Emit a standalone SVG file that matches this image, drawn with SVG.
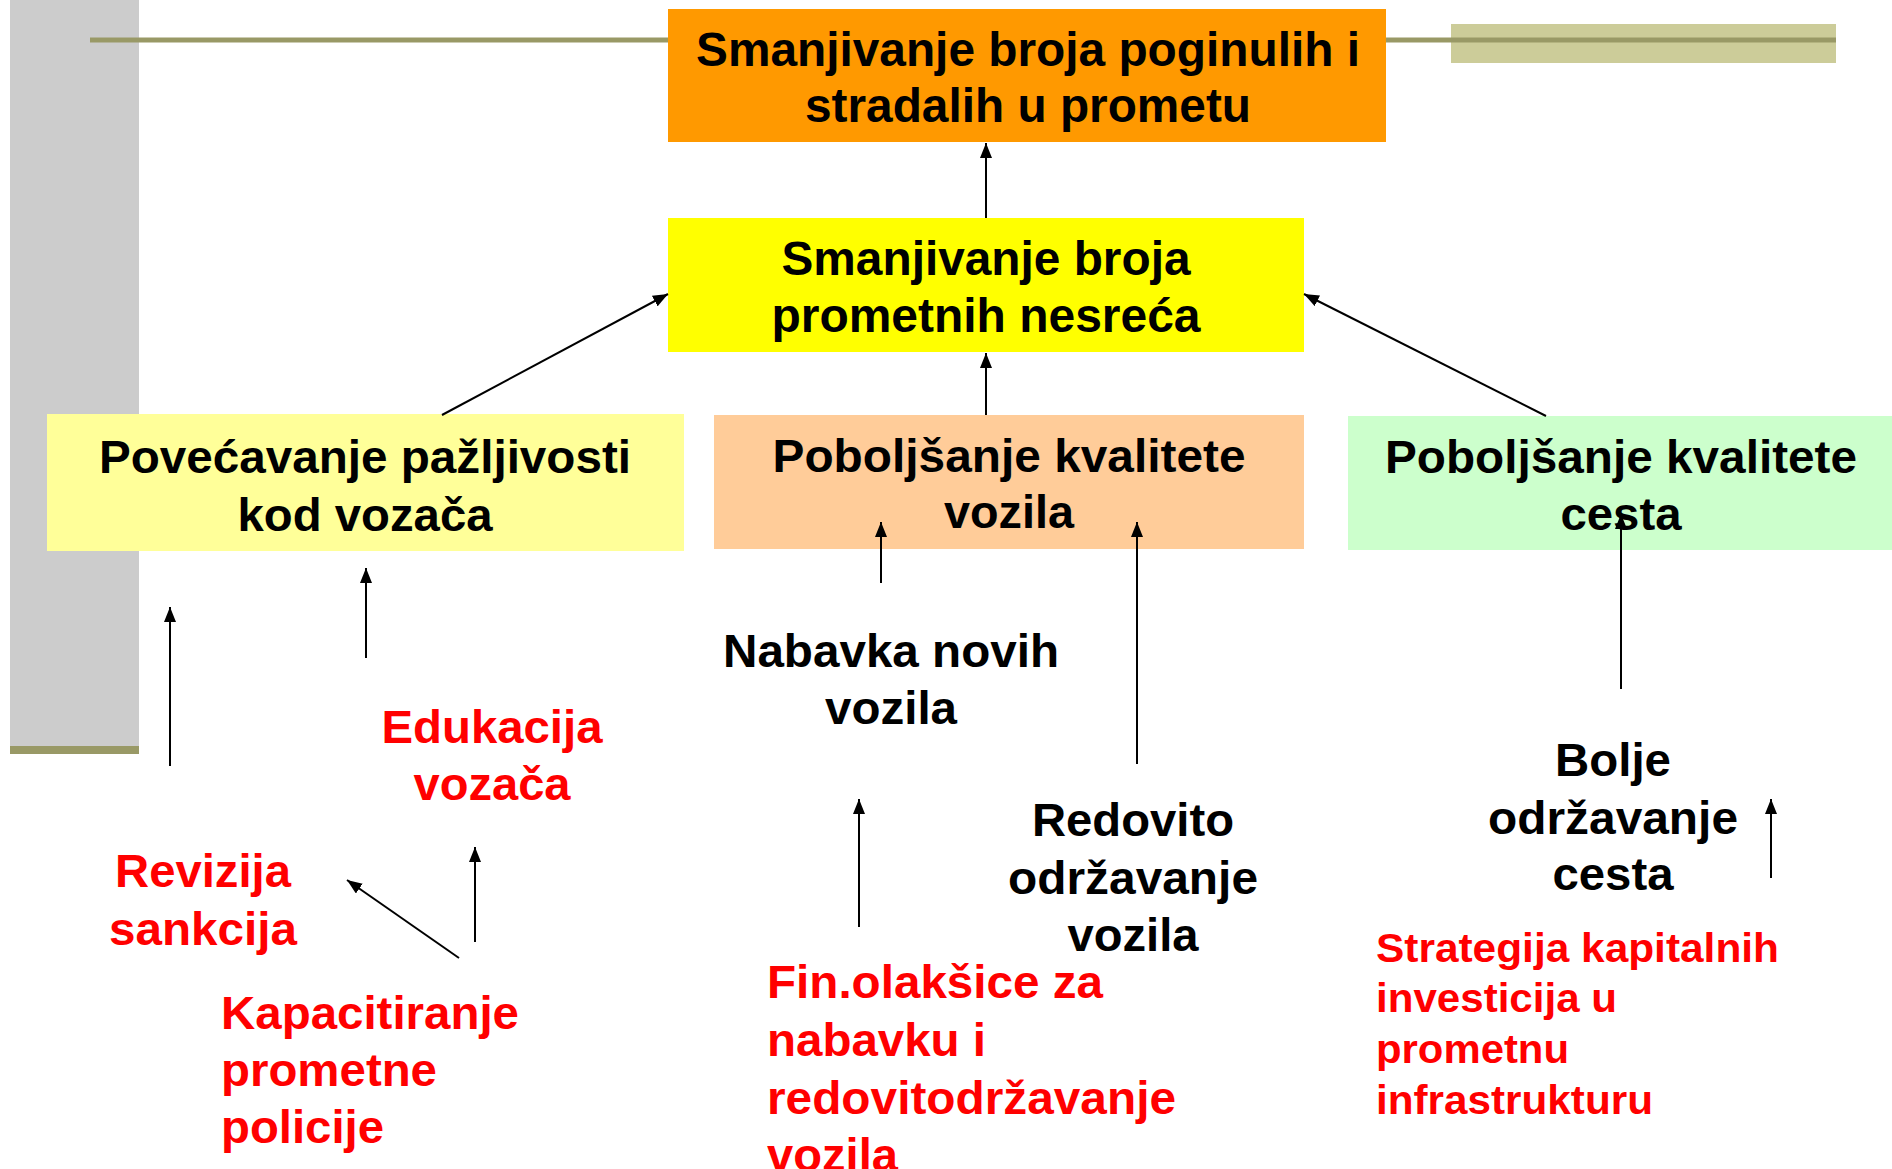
<svg xmlns="http://www.w3.org/2000/svg" width="1892" height="1169" viewBox="0 0 1892 1169">
<style>
text{font-family:"Liberation Sans",Arial,sans-serif;font-weight:bold;}
.t{font-size:48px;fill:#000;text-anchor:middle;}
.m{font-size:46px;fill:#000;text-anchor:middle;}
.r{font-size:46px;fill:#FF0000;}
.rc{font-size:46px;fill:#FF0000;text-anchor:middle;}
.rs{font-size:41px;fill:#FF0000;}
.c{stroke:#000;stroke-width:2;fill:none;marker-end:url(#ah);}
</style>
<defs>
<marker id="ah" markerUnits="userSpaceOnUse" markerWidth="16" markerHeight="12" refX="15" refY="6" orient="auto">
<path d="M0,0 L15,6 L0,12 z" fill="#000"/>
</marker>
</defs>
<rect width="1892" height="1169" fill="#fff"/>
<g id="decor">
<rect x="10" y="0" width="129" height="747" fill="#CCCCCC"/>
<rect x="10" y="746" width="129" height="8" fill="#999966"/>
<line x1="90" y1="40" x2="668" y2="40" stroke="#999966" stroke-width="5"/>
<rect x="1451" y="24" width="385" height="39" fill="#CCCC99"/>
<line x1="1386" y1="40" x2="1836" y2="40" stroke="#999966" stroke-width="5"/>
</g>
<g id="n-top">
<rect x="668" y="9" width="718" height="133" fill="#FF9900"/>
<text class="t" x="1028" y="66" textLength="664" lengthAdjust="spacingAndGlyphs">Smanjivanje broja poginulih i</text>
<text class="t" x="1028" y="122" textLength="446" lengthAdjust="spacingAndGlyphs">stradalih u prometu</text>
</g>
<g id="n-accidents">
<rect x="668" y="218" width="636" height="134" fill="#FFFF00"/>
<text class="t" x="986" y="275" textLength="409" lengthAdjust="spacingAndGlyphs">Smanjivanje broja</text>
<text class="t" x="986" y="332" textLength="429" lengthAdjust="spacingAndGlyphs">prometnih nesreća</text>
</g>
<g id="n-drivers">
<rect x="47" y="414" width="637" height="137" fill="#FFFF99"/>
<text class="m" x="365" y="473" textLength="532" lengthAdjust="spacingAndGlyphs">Povećavanje pažljivosti</text>
<text class="m" x="365" y="531" textLength="255" lengthAdjust="spacingAndGlyphs">kod vozača</text>
</g>
<g id="n-vehicles">
<rect x="714" y="415" width="590" height="134" fill="#FFCC99"/>
<text class="m" x="1009" y="472" textLength="473" lengthAdjust="spacingAndGlyphs">Poboljšanje kvalitete</text>
<text class="m" x="1009" y="528" textLength="130" lengthAdjust="spacingAndGlyphs">vozila</text>
</g>
<g id="n-roads">
<rect x="1348" y="416" width="544" height="134" fill="#CCFFCC"/>
<text class="m" x="1621" y="473" textLength="472" lengthAdjust="spacingAndGlyphs">Poboljšanje kvalitete</text>
<text class="m" x="1621" y="530" textLength="121" lengthAdjust="spacingAndGlyphs">cesta</text>
</g>
<g id="n-education">
<text class="rc" x="492" y="743" textLength="221" lengthAdjust="spacingAndGlyphs">Edukacija</text>
<text class="rc" x="492" y="800" textLength="157" lengthAdjust="spacingAndGlyphs">vozača</text>
</g>
<g id="n-sanctions">
<text class="rc" x="203" y="887" textLength="176" lengthAdjust="spacingAndGlyphs">Revizija</text>
<text class="rc" x="203" y="945" textLength="188" lengthAdjust="spacingAndGlyphs">sankcija</text>
</g>
<g id="n-police">
<text class="r" x="221" y="1029" textLength="298" lengthAdjust="spacingAndGlyphs">Kapacitiranje</text>
<text class="r" x="221" y="1086" textLength="216" lengthAdjust="spacingAndGlyphs">prometne</text>
<text class="r" x="221" y="1143" textLength="163" lengthAdjust="spacingAndGlyphs">policije</text>
</g>
<g id="n-newvehicles">
<text class="m" x="891" y="667" textLength="336" lengthAdjust="spacingAndGlyphs">Nabavka novih</text>
<text class="m" x="891" y="724" textLength="132" lengthAdjust="spacingAndGlyphs">vozila</text>
</g>
<g id="n-maintenance">
<text class="m" x="1133" y="836" textLength="202" lengthAdjust="spacingAndGlyphs">Redovito</text>
<text class="m" x="1133" y="894" textLength="250" lengthAdjust="spacingAndGlyphs">održavanje</text>
<text class="m" x="1133" y="951" textLength="131" lengthAdjust="spacingAndGlyphs">vozila</text>
</g>
<g id="n-finance">
<text class="r" x="767" y="998" textLength="336" lengthAdjust="spacingAndGlyphs">Fin.olakšice za</text>
<text class="r" x="767" y="1056" textLength="219" lengthAdjust="spacingAndGlyphs">nabavku i</text>
<text class="r" x="767" y="1114" textLength="409" lengthAdjust="spacingAndGlyphs">redovitodržavanje</text>
<text class="r" x="767" y="1171" textLength="131" lengthAdjust="spacingAndGlyphs">vozila</text>
</g>
<g id="n-roadmaint">
<text class="m" x="1613" y="776" textLength="116" lengthAdjust="spacingAndGlyphs">Bolje</text>
<text class="m" x="1613" y="834" textLength="250" lengthAdjust="spacingAndGlyphs">održavanje</text>
<text class="m" x="1613" y="890" textLength="121" lengthAdjust="spacingAndGlyphs">cesta</text>
</g>
<g id="n-strategy">
<text class="rs" x="1376" y="962" textLength="403" lengthAdjust="spacingAndGlyphs">Strategija kapitalnih</text>
<text class="rs" x="1376" y="1012" textLength="241" lengthAdjust="spacingAndGlyphs">investicija u</text>
<text class="rs" x="1376" y="1063" textLength="193" lengthAdjust="spacingAndGlyphs">prometnu</text>
<text class="rs" x="1376" y="1114" textLength="277" lengthAdjust="spacingAndGlyphs">infrastrukturu</text>
</g>
<g id="connectors">
<line class="c" x1="986" y1="218" x2="986" y2="143"/>
<line class="c" x1="986" y1="415" x2="986" y2="353"/>
<line class="c" x1="442" y1="415" x2="668" y2="294"/>
<line class="c" x1="1546" y1="416" x2="1304" y2="294"/>
<line class="c" x1="366" y1="658" x2="366" y2="568"/>
<line class="c" x1="170" y1="766" x2="170" y2="607"/>
<line class="c" x1="475" y1="942" x2="475" y2="847"/>
<line class="c" x1="459" y1="958" x2="347" y2="880"/>
<line class="c" x1="881" y1="583" x2="881" y2="522"/>
<line class="c" x1="1137" y1="764" x2="1137" y2="522"/>
<line class="c" x1="859" y1="927" x2="859" y2="799"/>
<line class="c" x1="1621" y1="689" x2="1621" y2="514"/>
<line class="c" x1="1771" y1="878" x2="1771" y2="799"/>
</g>
</svg>
